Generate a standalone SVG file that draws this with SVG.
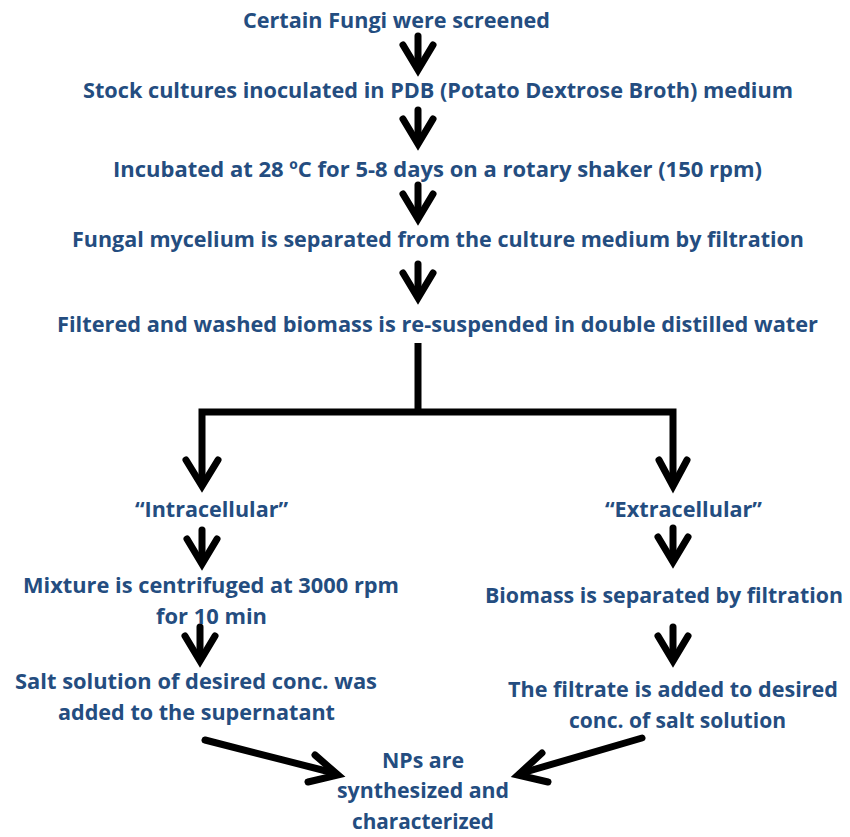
<svg xmlns="http://www.w3.org/2000/svg" width="850" height="837" viewBox="0 0 850 837">
<style>
  .t { font-family: "Open Sans", "Liberation Sans", sans-serif; font-weight: 700; font-size: 21px; fill: #244d80; }
  .c { fill: none; stroke: #000; stroke-width: 7; stroke-linecap: round; stroke-linejoin: miter; stroke-miterlimit: 10; }
  .l { fill: none; stroke: #000; stroke-width: 7; stroke-linecap: butt; stroke-linejoin: miter; }
</style>
<defs>
  <g id="down">
    <path class="c" d="M0,-38 V-6"/>
    <path class="c" d="M-15,-29 L0,-4 L15,-29"/>
  </g>
</defs>
<rect width="850" height="837" fill="#fff"/>
<g id="connectors">
  <use href="#down" x="418" y="74"/>
  <use href="#down" x="418" y="148"/>
  <use href="#down" x="418" y="223"/>
  <use href="#down" x="418" y="302"/>
  <path class="l" d="M418,343 V412"/>
  <path class="l" d="M202,486 V412 H673 V486"/>
  <path class="c" d="M186,460 L202,486 L218,460"/>
  <path class="c" d="M659,460 L673,486 L687,460"/>
  <use href="#down" x="202" y="568"/>
  <use href="#down" x="673" y="566"/>
  <use href="#down" x="200" y="665"/>
  <use href="#down" x="673" y="665"/>
  <path class="c" d="M205,740 L334,773"/>
  <path class="c" d="M315,755 L338,775 L308,782"/>
  <path class="c" d="M642,738 L522,773"/>
  <path class="c" d="M542,753 L518,775 L548,782"/>
</g>
<g id="n1"><text class="t" x="243" y="28" textLength="307" lengthAdjust="spacingAndGlyphs">Certain Fungi were screened</text></g>
<g id="n2"><text class="t" x="83" y="98" textLength="710" lengthAdjust="spacingAndGlyphs">Stock cultures inoculated in PDB (Potato Dextrose Broth) medium</text></g>
<g id="n3"><text class="t" x="113" y="177" textLength="649" lengthAdjust="spacingAndGlyphs">Incubated at 28 ºC for 5-8 days on a rotary shaker (150 rpm)</text></g>
<g id="n4"><text class="t" x="72" y="247" textLength="732" lengthAdjust="spacingAndGlyphs">Fungal mycelium is separated from the culture medium by filtration</text></g>
<g id="n5"><text class="t" x="57" y="332" textLength="761" lengthAdjust="spacingAndGlyphs">Filtered and washed biomass is re-suspended in double distilled water</text></g>
<g id="n6"><text class="t" x="135" y="517" textLength="153" lengthAdjust="spacingAndGlyphs">“Intracellular”</text></g>
<g id="n7"><text class="t" x="605" y="517" textLength="157" lengthAdjust="spacingAndGlyphs">“Extracellular”</text></g>
<g id="n8">
  <text class="t" x="23" y="593" textLength="376" lengthAdjust="spacingAndGlyphs">Mixture is centrifuged at 3000 rpm</text>
  <text class="t" x="156" y="624" textLength="111" lengthAdjust="spacingAndGlyphs">for 10 min</text>
</g>
<g id="n9"><text class="t" x="485" y="603" textLength="358" lengthAdjust="spacingAndGlyphs">Biomass is separated by filtration</text></g>
<g id="n10">
  <text class="t" x="15" y="689" textLength="362" lengthAdjust="spacingAndGlyphs">Salt solution of desired conc. was</text>
  <text class="t" x="58" y="720" textLength="277" lengthAdjust="spacingAndGlyphs">added to the supernatant</text>
</g>
<g id="n11">
  <text class="t" x="508" y="697" textLength="330" lengthAdjust="spacingAndGlyphs">The filtrate is added to desired</text>
  <text class="t" x="569" y="728" textLength="217" lengthAdjust="spacingAndGlyphs">conc. of salt solution</text>
</g>
<g id="n12">
  <text class="t" x="382" y="768" textLength="82" lengthAdjust="spacingAndGlyphs">NPs are</text>
  <text class="t" x="337" y="798" textLength="172" lengthAdjust="spacingAndGlyphs">synthesized and</text>
  <text class="t" x="352" y="829" textLength="142" lengthAdjust="spacingAndGlyphs">characterized</text>
</g>
</svg>
